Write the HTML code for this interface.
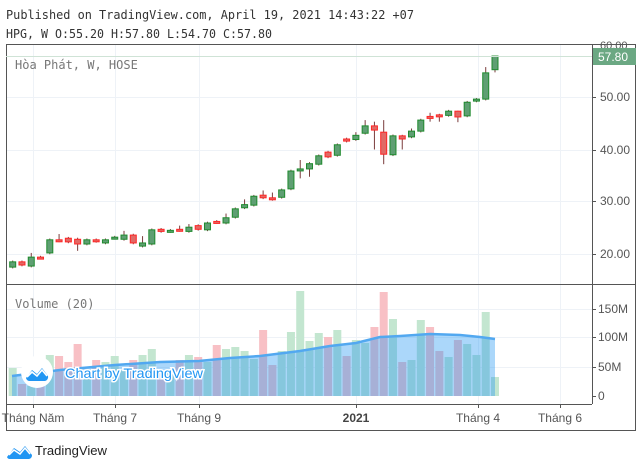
<!DOCTYPE html>
<html><head><meta charset="utf-8"><style>
body{margin:0;background:#fff;width:640px;height:467px;overflow:hidden;font-family:"Liberation Sans",sans-serif}
svg{position:absolute;left:0;top:0}
</style></head><body>
<svg id="s" width="640" height="467" viewBox="0 0 640 467" xmlns="http://www.w3.org/2000/svg">
<g font-family="DejaVu Sans Mono, Liberation Mono, monospace" font-size="12" fill="#333">
<text x="6" y="19" textLength="408" lengthAdjust="spacingAndGlyphs">Published on TradingView.com, April 19, 2021 14:43:22 +07</text>
<text x="6" y="38" textLength="266" lengthAdjust="spacingAndGlyphs">HPG, W O:55.20 H:57.80 L:54.70 C:57.80</text>
</g>
<g id="grid" stroke="#eef2f7" stroke-width="1"></g>
<g id="vol"></g>
<g id="candles"></g>
<!-- frame -->
<rect x="6.5" y="44.5" width="629" height="386" fill="none" stroke="#555" stroke-width="1"/>
<line x1="6" y1="284.5" x2="636" y2="284.5" stroke="#555"/>
<line x1="6" y1="404.5" x2="592" y2="404.5" stroke="#555"/>
<line x1="592.5" y1="44" x2="592.5" y2="404" stroke="#555"/>
<g font-size="12" fill="#555" font-family="Liberation Sans, sans-serif">
<text x="600" y="49" font-size="11">60.00</text>
<text x="600" y="101">50.00</text>
<text x="600" y="154">40.00</text>
<text x="600" y="205">30.00</text>
<text x="600" y="258">20.00</text>
<text x="598" y="313">150M</text>
<text x="598" y="341">100M</text>
<text x="598" y="371">50M</text>
<text x="598" y="400">0</text>
</g>
<g stroke="#555"><line x1="592" y1="97.5" x2="596" y2="97.5"/><line x1="592" y1="150.5" x2="596" y2="150.5"/><line x1="592" y1="201.5" x2="596" y2="201.5"/><line x1="592" y1="254.5" x2="596" y2="254.5"/><line x1="592" y1="309.5" x2="596" y2="309.5"/><line x1="592" y1="337.5" x2="596" y2="337.5"/><line x1="592" y1="367.5" x2="596" y2="367.5"/><line x1="592" y1="396.5" x2="596" y2="396.5"/>
<line x1="33.5" y1="404" x2="33.5" y2="408"/><line x1="115.5" y1="404" x2="115.5" y2="408"/><line x1="199.5" y1="404" x2="199.5" y2="408"/><line x1="356.5" y1="404" x2="356.5" y2="408"/><line x1="478.5" y1="404" x2="478.5" y2="408"/><line x1="560.5" y1="404" x2="560.5" y2="408"/></g>
<line x1="6" y1="56.5" x2="592" y2="56.5" stroke="#cfe3d6"/>
<rect x="593" y="48" width="43" height="17" fill="#6ba883"/>
<text x="598" y="61" font-size="12" fill="#fff">57.80</text>
<g font-size="12" fill="#555" text-anchor="middle">
<text x="33" y="422">Tháng Năm</text>
<text x="115" y="422">Tháng 7</text>
<text x="199" y="422">Tháng 9</text>
<text x="356" y="422" font-weight="bold" fill="#444">2021</text>
<text x="478" y="422">Tháng 4</text>
<text x="560" y="422">Tháng 6</text>
</g>
<g font-family="DejaVu Sans Mono, Liberation Mono, monospace" font-size="12" fill="#777">
<text x="15" y="69">Hòa Phát, W, HOSE</text>
<text x="15" y="308">Volume (20)</text>
</g>
<!-- watermark -->
<circle cx="37" cy="372" r="16" fill="#fff"/>
<path d="M26 378 l6-8 l5 4 l5-6 l6 8 a4 4 0 0 1 -3 5 h-16 a4 4 0 0 1 -3 -3z" fill="#2196f3"/>
<path d="M27 377 l5-5 l5 4 l5-6 l5 6" stroke="#fff" stroke-width="1.6" fill="none"/>
<text x="65" y="378" font-size="14" fill="#2196f3" stroke="#fff" stroke-width="3" paint-order="stroke" textLength="138" lengthAdjust="spacingAndGlyphs">Chart by TradingView</text>
<!-- bottom logo -->
<path d="M7 457 l7-9 l6 4 l5-6 l7 9 a4 4 0 0 1 -3 4 h-19 a3 3 0 0 1 -3 -2z" fill="#2196f3"/>
<path d="M9 455 l5-5 l6 4 l5-6 l5 6" stroke="#fff" stroke-width="1.5" fill="none"/>
<text x="35" y="455" font-size="13" fill="#222" textLength="72" lengthAdjust="spacingAndGlyphs">TradingView</text>
</svg>
<script>
var ns="http://www.w3.org/2000/svg";
function el(p,t,a){var e=document.createElementNS(ns,t);for(var k in a)e.setAttribute(k,a[k]);document.getElementById(p).appendChild(e);return e;}
[97,150,201,254,309,337,367].forEach(function(y){el("grid","line",{x1:6,x2:592,y1:y+.5,y2:y+.5});});
[33,115,199,356,478,560].forEach(function(x){el("grid","line",{x1:x+.5,x2:x+.5,y1:44,y2:404});});
var d=[[17.6,18.6],[18.6,18.0],[17.8,19.5,20.3],[19.5,19.3],[20.3,22.8],[22.8,22.6,23.9],[23.1,22.4],[22.9,22.0,23.2,20.7],[22.0,22.8],[22.8,22.5],[22.2,22.8],[23.1,23.3],[22.9,23.7,24.5],[23.7,22.2],[21.6,22.2,23.5],[22.0,24.7],[24.8,24.4],[24.4,24.6],[24.8,24.6,25.5],[24.4,25.2,25.8],[25.5,24.8],[24.7,26.0],[26.3,26.1],[26.0,27.0,27.8],[27.1,28.7],[28.9,29.5,30.5],[29.4,31.1],[31.3,30.8,32.2],[30.8,30.5,31.8],[30.9,32.3],[32.5,35.9],[36.0,36.3,38.0,34.5],[36.3,37.3,37.6,34.8],[37.2,38.8],[39.5,38.6],[38.9,40.9],[42.0,41.6],[41.9,42.7,43.3],[43.1,44.5,45.6],[44.5,43.7,45.3,40.0],[43.3,39.1,45.6,37.2],[39.0,42.6],[42.6,42.0,42.8,40.0],[42.4,43.5,44.0],[43.5,45.6],[46.3,46.0,47.0,45.3],[46.6,46.3,46.8,45.3],[46.5,47.3],[47.3,46.2,47.4,45.2],[46.4,49.0],[49.4,49.6,49.8,49.0],[49.6,54.6,55.7],[55.2,57.8,57.8,54.7]];
var vt=[368,384,386,378,355,356,362,344,375,360,362,356,370,360,355,349,372,372,360,355,357,362,345,349,347,351,359,330,365,351,332,291,341,333,337,330,356,340,343,327,292,319,362,360,320,327,351,357,340,344,355,312,377];
function Y(p){return 97+(50-p)*5.25;}
function X(i){return 12.7+i*9.275;}
for(var i=0;i<53;i++){var c=d[i],up=c[1]>=c[0];
 el("vol","rect",{x:X(i)-4,y:vt[i],width:8,height:396-vt[i],fill:up?"#c3e6d0":"#f8c0c5"});}
var ma=[[12,376],[60,370],[115,365],[160,362],[199,361],[230,358],[260,356],[300,351],[330,346],[356,343],[380,337],[400,336],[430,334],[460,335],[480,337],[495,339]];
var pts=ma.map(function(p){return p.join(",");}).join(" ");
el("vol","polygon",{points:"12,396 "+pts+" 495,396",fill:"rgba(33,150,243,0.38)"});
el("vol","polyline",{points:pts,fill:"none",stroke:"#52a8f0","stroke-width":2.5});
for(var i=0;i<53;i++){var c=d[i],o=c[0],cl=c[1],up=cl>=o;
 var h=c[2]!==undefined?c[2]:Math.max(o,cl)+0.25,l=c[3]!==undefined?c[3]:Math.min(o,cl)-0.25;
 var x=X(i);
 el("candles","line",{x1:x,x2:x,y1:Y(h),y2:Y(l),stroke:"#7a3b3b","stroke-width":1});
 var t=Y(Math.max(o,cl)),b=Y(Math.min(o,cl));if(b-t<2){b=t+2;}
 el("candles","rect",{x:x-3,y:t,width:6,height:b-t,fill:up?"#5f9f73":"#e06a66",stroke:up?"#1f8a2e":"#ff2626","stroke-width":1});}
</script>
</body></html>
